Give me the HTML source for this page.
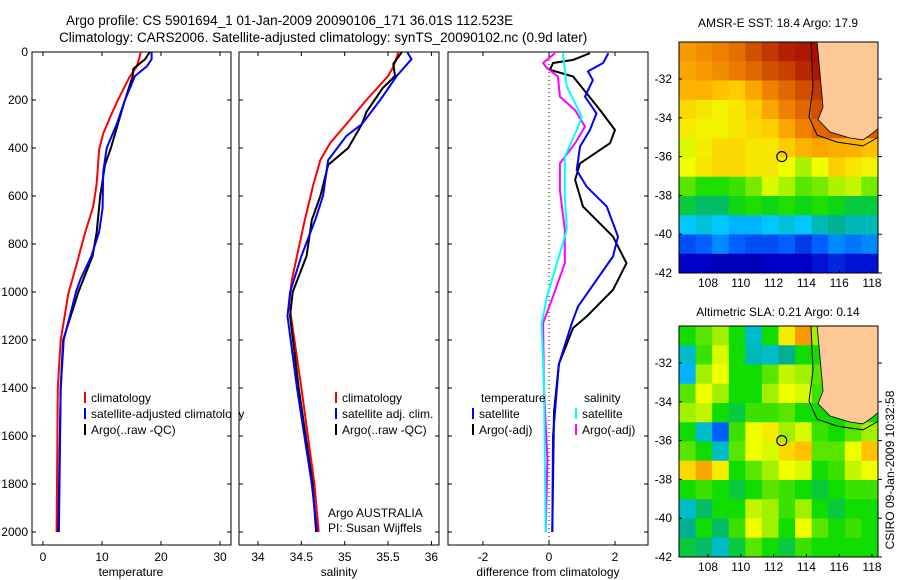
<!DOCTYPE html>
<html><head><meta charset="utf-8"><style>
html,body{margin:0;padding:0;background:#fff;}
svg{display:block;font-family:"Liberation Sans",sans-serif;}
</style></head><body>
<svg id="fig" width="900" height="580" xmlns="http://www.w3.org/2000/svg">
<defs>
<clipPath id="clipTop"><rect x="679" y="42" width="199" height="231"/></clipPath>
<clipPath id="clipBot"><rect x="679" y="326" width="199" height="231"/></clipPath>
</defs>
<rect width="900" height="580" fill="#fff"/>
<text x="66" y="25" font-size="13.5">Argo profile: CS 5901694_1 01-Jan-2009 20090106_171 36.01S 112.523E</text>
<text x="59" y="42" font-size="13.5">Climatology: CARS2006. Satellite-adjusted climatology: synTS_20090102.nc (0.9d later)</text>
<g id="panels"></g>
<text x="778" y="27" font-size="12" text-anchor="middle">AMSR-E SST: 18.4 Argo: 17.9</text>
<text x="778" y="316" font-size="12" text-anchor="middle">Altimetric SLA: 0.21 Argo: 0.14</text>
<text x="0" y="0" font-size="12" text-anchor="middle" transform="translate(894,470) rotate(-90)">CSIRO 09-Jan-2009 10:32:58</text>
</svg>
<script>
// ---------- profile data ----------
const tempClimDepth=[0,61,103,200,270,340,408,547,644,756,894,1005,1200,1400,2000];
const tempClim=[16.6,15.9,14.7,12.7,11.4,10.2,9.5,9.1,8.5,7.1,5.6,4.3,3.0,2.5,2.3];
const tempSatDepth=[0,30,60,100,200,300,400,500,650,750,850,950,1000,1200,1400,2000];
const tempSat=[18.4,18.4,17.6,15.6,13.9,12.5,10.8,10.2,10.1,9.5,8.2,6.3,5.6,3.5,3.0,2.7];
const tempArgoDepth=[0,30,70,100,200,300,400,470,600,750,850,1000,1200,1400,2000];
const tempArgo=[18.1,17.3,15.3,15.2,13.9,12.7,11.5,10.5,9.7,9.1,8.4,6.0,3.4,3.0,2.6];
const salClimDepth=[0,62,100,200,300,380,450,550,700,850,950,1050,1400,1800,2000];
const salClim=[35.62,35.56,35.50,35.25,35.02,34.83,34.72,34.64,34.54,34.45,34.39,34.36,34.50,34.65,34.70];
const salSatDepth=[0,30,100,200,300,350,450,600,700,850,1000,1100,1400,1800,2000];
const salSat=[35.72,35.77,35.60,35.41,35.20,35.02,34.81,34.75,34.66,34.50,34.37,34.34,34.45,34.62,34.68];
const salArgoDepth=[0,50,100,150,250,300,400,470,600,700,850,1000,1100,1400,1800,2000];
const salArgo=[35.66,35.56,35.58,35.44,35.25,35.20,35.04,34.81,34.72,34.62,34.56,34.40,34.37,34.47,34.63,34.67];
const dTSatDepth=[5,46,81,117,186,256,325,394,492,561,644,769,852,950,1061,1130,1300,1600,2000];
const dTSat=[1.8,1.64,1.18,1.33,1.09,1.44,1.24,0.94,0.84,1.14,1.75,2.09,1.94,1.44,0.88,0.69,0.3,0.12,0.1];
const dTArgoDepth=[5,33,46,74,102,172,242,325,380,464,533,644,769,880,991,1102,1150,1300,1500,2000];
const dTArgo=[1.24,0.73,0.12,0.03,0.73,1.14,1.55,2.0,1.85,0.94,0.79,1.03,1.94,2.35,1.94,1.14,0.73,0.3,0.15,0.1];
const dSSatDepth=[5,74,144,269,325,436,603,741,880,1019,1130,1400,2000];
const dSSat=[0.42,0.48,0.54,0.99,0.84,0.48,0.48,0.54,0.24,-0.06,-0.22,-0.15,-0.1];
const dSArgoDepth=[5,46,67,102,186,242,311,380,464,575,741,880,1019,1130,1400,1700,2000];
const dSArgo=[0.18,-0.18,-0.06,0.27,0.33,0.79,1.09,0.79,0.33,0.33,0.48,0.48,0.12,-0.18,-0.15,-0.05,-0.1];
const depthTicks=[0,200,400,600,800,1000,1200,1400,1600,1800,2000];
const tempTicks=[0,10,20,30];
const salTicks=[34,34.5,35,35.5,36];
const salTickLabels=["34","34.5","35","35.5","36"];
const diffTicks=[-2,0,2];
// ---------- map data (12x12 grids, 0..1 colour index) ----------
const sstGrid=[
[.78,.80,.82,.85,.90,.93,.96,.97,.98,.98,.98,.98],
[.76,.78,.80,.83,.86,.90,.92,.95,.97,.98,.98,.98],
[.74,.74,.72,.70,.76,.82,.86,.90,.93,.96,.98,.98],
[.68,.66,.64,.66,.70,.76,.82,.86,.90,.93,.95,.95],
[.65,.64,.64,.66,.68,.70,.76,.82,.86,.88,.88,.88],
[.60,.65,.68,.68,.66,.66,.70,.74,.76,.75,.74,.72],
[.62,.66,.68,.68,.66,.66,.62,.56,.62,.70,.66,.64],
[.50,.46,.46,.48,.52,.60,.56,.50,.52,.56,.58,.52],
[.42,.40,.40,.44,.46,.44,.46,.44,.46,.44,.42,.42],
[.32,.34,.32,.30,.30,.32,.34,.32,.36,.38,.36,.36],
[.20,.22,.26,.22,.20,.20,.22,.18,.22,.26,.24,.26],
[.12,.12,.10,.10,.10,.12,.12,.12,.14,.16,.14,.14]];
const slaGrid=[
[.45,.50,.55,.45,.35,.45,.65,.78,.55,.48,.45,.45],
[.35,.48,.60,.45,.36,.35,.38,.45,.45,.48,.45,.45],
[.30,.55,.62,.45,.45,.50,.58,.55,.50,.48,.45,.45],
[.50,.62,.55,.45,.45,.55,.62,.60,.48,.45,.45,.45],
[.55,.58,.45,.42,.48,.48,.50,.45,.45,.45,.45,.45],
[.45,.35,.22,.48,.62,.65,.55,.60,.48,.45,.50,.55],
[.50,.45,.35,.50,.62,.60,.68,.72,.50,.50,.62,.72],
[.68,.76,.65,.45,.50,.55,.62,.60,.45,.48,.58,.62],
[.45,.48,.45,.42,.45,.50,.48,.45,.42,.45,.48,.48],
[.35,.40,.45,.45,.58,.55,.48,.55,.45,.42,.45,.45],
[.38,.45,.40,.48,.62,.55,.45,.62,.50,.45,.48,.45],
[.42,.40,.35,.42,.50,.45,.42,.48,.45,.45,.45,.45]];
const lonTicks=[108,110,112,114,116,118];
const latTicks=[-32,-34,-36,-38,-40,-42];
const coastLon=[114.65,114.83,115.01,114.71,115.44,116.66,117.45,118.06,118.4,118.4];
const coastLat=[-30.1,-31.7,-33.45,-34.1,-34.73,-35.04,-35.14,-34.78,-34.53,-30.1];
const contourLon=[114.28,114.4,114.16,114.65,115.87,117.45,118.4];
const contourLat=[-30.1,-32.4,-33.96,-34.89,-35.25,-35.45,-34.99];
const argoLon=112.5, argoLat=-36.0;

const NS="http://www.w3.org/2000/svg";
const G=document.getElementById('panels');
function mk(tag,attrs,parent){const e=document.createElementNS(NS,tag);for(const k in attrs)e.setAttribute(k,attrs[k]);(parent||G).appendChild(e);return e;}
const yD=d=>52+d*0.24;
const xT=t=>43+t*5.9;
const xS=s=>258+(s-34)*86.7;
const xDf=v=>549+v*33;
const PT=52,PB=545;
const panels=[{x0:32,x1:231,name:'temperature'},{x0:239,x1:439,name:'salinity'},{x0:448,x1:648,name:'difference'}];

panels.forEach((p,i)=>{
  const r=mk('rect',{x:p.x0,y:PT,width:p.x1-p.x0,height:PB-PT,fill:'#fff',stroke:'#000','stroke-width':1});
  
  
  depthTicks.forEach(d=>{
    mk('line',{x1:p.x0,x2:p.x0+4,y1:yD(d),y2:yD(d),stroke:'#000'});
    mk('line',{x1:p.x1-4,x2:p.x1,y1:yD(d),y2:yD(d),stroke:'#000'});
  });
});
depthTicks.forEach(d=>{
  const t=mk('text',{x:28,y:yD(d)+4,'font-size':12,'text-anchor':'end'});
  t.textContent=d;
  
  
});
function xticks(ticks,labels,fx){
  ticks.forEach((v,i)=>{
    const x=fx(v);
    mk('line',{x1:x,x2:x,y1:PT,y2:PT+4,stroke:'#000'});
    mk('line',{x1:x,x2:x,y1:PB-4,y2:PB,stroke:'#000'});
    const t=mk('text',{x:x,y:561,'font-size':12,'text-anchor':'middle'});
    t.textContent=labels[i];
    
    
  });
}
xticks(tempTicks,tempTicks.map(String),xT);
xticks(salTicks,salTickLabels,xS);
xticks(diffTicks,diffTicks.map(String),xDf);
[['temperature',131],['salinity',339],['difference from climatology',548]].forEach(([s,x])=>{
  const t=mk('text',{x:x,y:576,'font-size':12,'text-anchor':'middle'});
  t.textContent=s;
  
  
});
const z=mk('line',{x1:xDf(0),x2:xDf(0),y1:PT,y2:PB,stroke:'#000','stroke-dasharray':'1,3'});



function series(depths,vals,fx,color,w,name){
  const pts=depths.map((d,i)=>fx(vals[i]).toFixed(1)+','+yD(d).toFixed(1)).join(' ');
  const pl=mk('polyline',{points:pts,fill:'none',stroke:color,'stroke-width':w,'stroke-linejoin':'round'});
  
  
}
series(tempClimDepth,tempClim,xT,'#f00',2,'temp-climatology-line');
series(tempArgoDepth,tempArgo,xT,'#000',2,'temp-argo-line');
series(tempSatDepth,tempSat,xT,'#00f',2,'temp-satellite-line');
series(salClimDepth,salClim,xS,'#f00',2,'sal-climatology-line');
series(salArgoDepth,salArgo,xS,'#000',2,'sal-argo-line');
series(salSatDepth,salSat,xS,'#00f',2,'sal-satellite-line');
series(dTArgoDepth,dTArgo,xDf,'#000',2,'temp-diff-argo-line');
series(dTSatDepth,dTSat,xDf,'#00f',2,'temp-diff-satellite-line');
series(dSArgoDepth,dSArgo,xDf,'#f0f',2,'sal-diff-argo-line');
series(dSSatDepth,dSSat,xDf,'#0ff',2,'sal-diff-satellite-line');

function legend(x,y,color,label,name){
  if(color){mk('line',{x1:x,x2:x,y1:y-10,y2:y+1,stroke:color,'stroke-width':2});}
  const t=mk('text',{x:x+6,y:y,'font-size':12});
  t.textContent=label;
  
  
}
legend(85,402,'#f00','climatology','temp-legend-climatology');
legend(85,418,'#00f','satellite-adjusted climatology','temp-legend-satellite');
legend(85,434,'#000','Argo(..raw -QC)','temp-legend-argo');
legend(336,402,'#f00','climatology','sal-legend-climatology');
legend(336,418,'#00f','satellite adj. clim.','sal-legend-satellite');
legend(336,434,'#000','Argo(..raw -QC)','sal-legend-argo');
legend(475,402,null,'temperature','diff-legend-temp-header');
legend(473,418,'#00f','satellite','diff-legend-temp-satellite');
legend(473,434,'#000','Argo(-adj)','diff-legend-temp-argo');
legend(578,402,null,'salinity','diff-legend-sal-header');
legend(576,418,'#0ff','satellite','diff-legend-sal-satellite');
legend(576,434,'#f0f','Argo(-adj)','diff-legend-sal-argo');
mk('rect',{x:232,y:405,width:6,height:16,fill:'#fff'});
const a1=mk('text',{x:328,y:517,'font-size':12});a1.textContent='Argo AUSTRALIA';


const a2=mk('text',{x:328,y:532,'font-size':12});a2.textContent='PI: Susan Wijffels';



// ---------- maps ----------
const stops=[[0,'#00007a'],[.12,'#0000c8'],[.22,'#0060ff'],[.32,'#00c8ff'],[.38,'#00b090'],[.45,'#10dc00'],[.55,'#a0f000'],[.62,'#f0ff00'],[.72,'#ffc000'],[.82,'#f08000'],[.90,'#d05000'],[1,'#a00000']];
function hex(c){return [1,3,5].map(i=>parseInt(c.substr(i,2),16));}
function cmap(v){
  for(let i=1;i<stops.length;i++){if(v<=stops[i][0]){const [a,ca]=stops[i-1],[b,cb]=stops[i];const t=(v-a)/(b-a);const A=hex(ca),B=hex(cb);return 'rgb('+A.map((x,k)=>Math.round(x+(B[k]-x)*t)).join(',')+')';}}
  return stops[stops.length-1][1];
}
const MX0=679,MX1=878;
const lonX=l=>708+(l-108)*16.4;
function drawMap(grid,top,name,clip){
  const bottom=top+231, latY=l=>top+37+(-32-l)*19.4;
  const g=mk('g',{});
  
  
  const inner=mk('g',{'clip-path':'url(#'+clip+')'},g);
  const cw=(MX1-MX0)/12,rh=(bottom-top)/12;
  grid.forEach((row,r)=>row.forEach((v,c)=>{
    mk('rect',{x:MX0+c*cw,y:top+r*rh,width:cw+0.5,height:rh+0.5,fill:cmap(v)},inner);
  }));
  const land=mk('polygon',{points:coastLon.map((l,i)=>lonX(l).toFixed(1)+','+Math.max(top-2,latY(coastLat[i])).toFixed(1)).join(' '),fill:'#fcc896',stroke:'#000','stroke-width':0.8},inner);
  
  
  mk('polyline',{points:contourLon.map((l,i)=>lonX(l).toFixed(1)+','+Math.max(top-2,latY(contourLat[i])).toFixed(1)).join(' '),fill:'none',stroke:'#000','stroke-width':1},inner);
  const c=mk('circle',{cx:lonX(argoLon),cy:latY(argoLat),r:5,fill:'none',stroke:'#000','stroke-width':1.2},g);
  
  
  mk('rect',{x:MX0,y:top,width:MX1-MX0,height:bottom-top,fill:'none',stroke:'#000'},g);
  lonTicks.forEach(l=>{
    const x=lonX(l);
    mk('line',{x1:x,x2:x,y1:bottom,y2:bottom-3,stroke:'#000'},g);
    const t=mk('text',{x:x,y:bottom+14,'font-size':12,'text-anchor':'middle'},g);
    t.textContent=l;
    
    
  });
  latTicks.forEach(l=>{
    const y=latY(l);
    mk('line',{x1:MX0,x2:MX0+3,y1:y,y2:y,stroke:'#000'},g);
    mk('line',{x1:MX1,x2:MX1+4,y1:y,y2:y,stroke:'#000'},g);
    const t=mk('text',{x:672,y:y+4,'font-size':12,'text-anchor':'end'},g);
    t.textContent=l;
    
    
  });
}
drawMap(sstGrid,42,'sst-map','clipTop');
drawMap(slaGrid,326,'sla-map','clipBot');
</script>
</body></html>
